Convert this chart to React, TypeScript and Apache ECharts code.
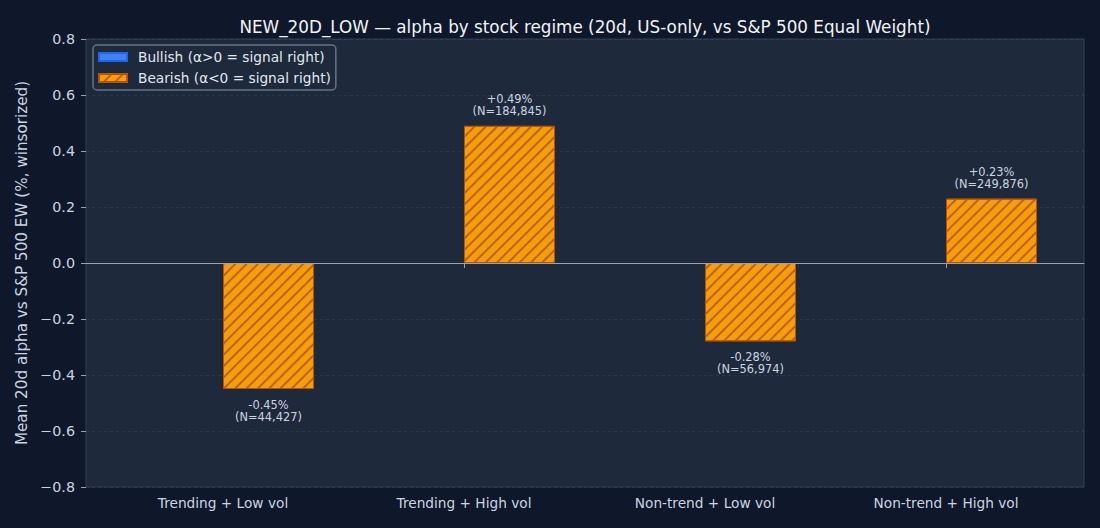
import React, { useEffect, useRef } from "react";
import * as echarts from "echarts";

const categories = ["Trending + Low vol", "Trending + High vol", "Non-trend + Low vol", "Non-trend + High vol"];
const bullishValues: (number | null)[] = [null, null, null, null];
const bearishValues = [-0.45, 0.49, -0.28, 0.23];
const counts = [44427, 184845, 56974, 249876];
const yTicks = [-0.8, -0.6, -0.4, -0.2, 0, 0.2, 0.4, 0.6, 0.8];

const FONT = "DejaVu Sans";

export default function App() {
  const ref = useRef<HTMLDivElement>(null);
  useEffect(() => {
    document.body.style.margin = "0";
    document.body.style.background = "#0f172a";
    const chart = echarts.init(ref.current!, null, { renderer: "svg" });
    const fmtLabel = (i: number) => {
      const v = bearishValues[i];
      return (v >= 0 ? "+" : "") + v.toFixed(2) + "%\n(N=" + counts[i].toLocaleString("en-US") + ")";
    };
    chart.setOption({
      animation: false,
      backgroundColor: "#0f172a",
      textStyle: { fontFamily: FONT },
      title: {
        text: "NEW_20D_LOW — alpha by stock regime (20d, US-only, vs S&P 500 Equal Weight)",
        left: 580,
        top: 13,
        textAlign: "center",
        textStyle: { color: "#f1f5f9", fontSize: 16.8, fontWeight: "normal", fontFamily: FONT },
      },
      legend: {
        orient: "vertical",
        left: 93,
        top: 45,
        padding: [4, 5, 4, 5],
        backgroundColor: "#1e293b",
        borderColor: "#64748b",
        borderWidth: 1.5,
        borderRadius: 4,
        itemWidth: 28,
        itemHeight: 8,
        itemGap: 5,
        icon: "rect",
        textStyle: { color: "#e2e8f0", fontSize: 13.7, lineHeight: 16, padding: [0, 0, 0, 6], fontFamily: FONT },
        data: ["Bullish (α>0 = signal right)", "Bearish (α<0 = signal right)"],
      },
      grid: [
        { left: 86, top: 39, width: 998, height: 448, show: true, backgroundColor: "#1e293b", borderColor: "#334155", borderWidth: 1 },
        { left: 102.5, top: 39, width: 964, height: 448 },
      ],
      xAxis: [
        {
          type: "value", gridIndex: 0, min: 0, max: 1,
          axisLine: { show: true, onZero: true, lineStyle: { color: "#94a3b8", width: 1 } },
          axisLabel: { show: false }, axisTick: { show: false }, splitLine: { show: false },
          z: 3,
        },
        {
          type: "category", gridIndex: 1, data: categories,
          axisLine: { show: false },
          axisTick: { show: true, alignWithLabel: true, length: 5, lineStyle: { color: "#94a3b8" } },
          axisLabel: { color: "#cbd5e1", fontSize: 13.7, margin: 9, fontFamily: FONT },
        },
      ],
      yAxis: [
        {
          type: "value", gridIndex: 0, min: -0.8, max: 0.8, interval: 0.2,
          name: "Mean 20d alpha vs S&P 500 EW (%, winsorized)",
          nameLocation: "middle", nameGap: 56, nameRotate: 90,
          nameTextStyle: { color: "#cbd5e1", fontSize: 15.2, fontFamily: FONT },
          axisLine: { show: false },
          axisTick: { show: true, length: 5, lineStyle: { color: "#94a3b8" } },
          axisLabel: {
            color: "#cbd5e1", fontSize: 14.3, margin: 11, fontFamily: FONT,
            formatter: (v: number) => {
              const t = yTicks.find((x) => Math.abs(x - v) < 1e-9);
              const val = t === undefined ? v : t;
              return val.toFixed(1).replace("-", "−");
            },
          },
          splitLine: { show: true, lineStyle: { color: "rgba(148,163,184,0.1)", type: [3, 3], width: 1 } },
          z: 3,
        },
        { type: "value", gridIndex: 1, min: -0.8, max: 0.8, show: false, splitLine: { show: false } },
      ],
      series: [
        {
          name: "Bullish (α>0 = signal right)",
          type: "bar", xAxisIndex: 1, yAxisIndex: 1,
          data: bullishValues,
          barWidth: 91, barGap: "0%",
          itemStyle: { color: "#3b82f6", borderColor: "#2563eb", borderWidth: 1 },
        },
        {
          name: "Bearish (α<0 = signal right)",
          type: "bar", xAxisIndex: 1, yAxisIndex: 1,
          barWidth: 91, barGap: "0%",
          data: bearishValues.map((v, i) => ({
            value: v,
            label: {
              show: true,
              position: v >= 0 ? "top" : "bottom",
              distance: v >= 0 ? 9 : 10,
              formatter: () => fmtLabel(i),
              color: "#cbd5e1",
              fontSize: 11.4,
              lineHeight: 12,
              fontFamily: FONT,
              align: "center",
            },
          })),
          itemStyle: {
            color: "#f59e0b",
            borderColor: "#b45309",
            borderWidth: 1,
            decal: {
              symbol: "rect",
              symbolSize: 1,
              color: "#c2610a",
              dashArrayX: [1, 0],
              dashArrayY: [1.3, 5.2],
              rotation: -Math.PI / 4,
            },
          },
        },
      ],
    });
    return () => chart.dispose();
  }, []);
  return <div ref={ref} style={{ width: 1100, height: 528 }} />;
}
